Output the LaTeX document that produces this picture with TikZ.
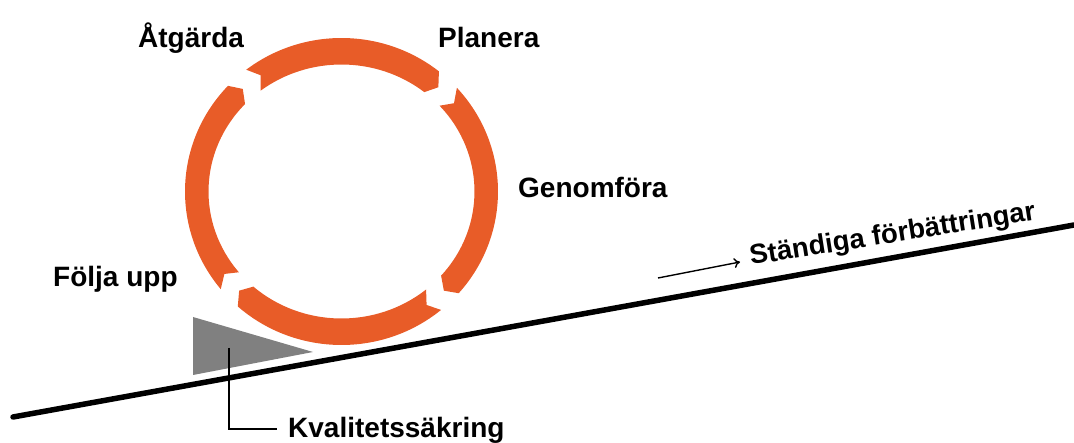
\documentclass[tikz,border=0pt]{standalone}
\usepackage{fontspec}
\setmainfont{Liberation Sans}
\usetikzlibrary{arrows.meta}
\definecolor{ringc}{RGB}{232,92,40}
\definecolor{wedgec}{RGB}{128,128,128}
\def\rcx{341.5}
\def\rcy{250.5}
\newcommand\ringseg[2]{%
  \fill[ringc] ({\rcx+156.5*cos(#1)},{\rcy+153.5*sin(#1)})
    arc[start angle=#1,end angle=#2,x radius=156.5,y radius=153.5]
    -- ({\rcx+144.75*cos(#2-3.5)},{\rcy+140.25*sin(#2-3.5)})
    -- ({\rcx+133*cos(#2)},{\rcy+127*sin(#2)})
    arc[start angle=#2,end angle=#1,x radius=133,y radius=127]
    -- ({\rcx+144.75*cos(#1-3.5)},{\rcy+140.25*sin(#1-3.5)}) -- cycle;}
\begin{document}
\begin{tikzpicture}[x=1pt,y=1pt,
  lbl/.style={font=\bfseries\fontsize{28}{30}\selectfont,inner sep=0pt,anchor=base west},
  thin line/.style={line width=1.6pt,black}]
\useasboundingbox (0,0) rectangle (1074,442);
% wedge
\fill[wedgec] (193,125) -- (193,67) -- (313,90) -- cycle;
% ring segments (clockwise)
\ringseg{127.5}{51.5}
\ringseg{42.5}{-41.5}
\ringseg{-50.5}{-131.5}
\ringseg{219.5}{136.5}
% main slope line
\coordinate (l1) at (13,25);
\coordinate (l2) at (1074,217);
\draw[line width=5.5pt,line cap=round] (l1) -- (l2);
% labels
\node[lbl] (atg) at (138,394) {Åtgärda};
\node[lbl] (pla) at (438,394) {Planera};
\node[lbl] (gen) at (518,244) {Genomföra};
\node[lbl] (fol) at (53,155) {Följa upp};
\node[lbl] (kva) at (288,5) {Kvalitetssäkring};
\node[lbl,font=\bfseries\fontsize{27.5}{30}\selectfont,rotate=9] (sta) at (751,177) {Ständiga förbättringar};
% small arrow
\coordinate (sa1) at (658,164);
\coordinate (sa2) at (740,180);
\draw[line width=1.4pt,-{To[length=6pt,width=10pt]}] (sa1) -- (sa2);
% callout
\coordinate (kq) at (229,94);
\coordinate (kend) at (277,13);
\draw[thin line] (kq) |- (kend);
\end{tikzpicture}
\end{document}
